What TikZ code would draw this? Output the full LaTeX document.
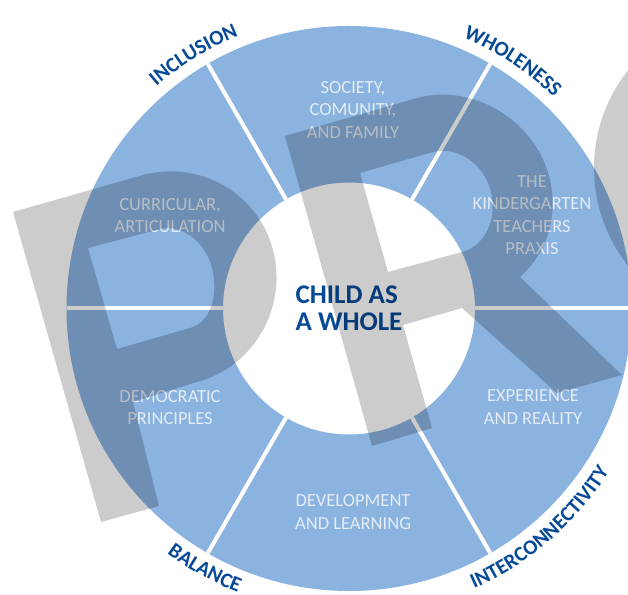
\documentclass[tikz,border=0pt]{standalone}
\usepackage{fontspec}
\setmainfont{Carlito}
\usetikzlibrary{decorations.text,calc}
\definecolor{wheelblue}{HTML}{8AB3E0}
\definecolor{labeltext}{HTML}{E3ECF7}
\definecolor{navy}{HTML}{064A97}
\tikzset{
  x=1pt,y=1pt,
  sectortext/.style={text=labeltext,font=\fontsize{18.5}{22.5}\selectfont,align=center,inner sep=0pt},
  divider/.style={draw=white,line width=4pt},
  rimtop/.style={decorate,decoration={text along path,text align=center,
     text={|\fontsize{21}{21}\selectfont\bfseries\color{navy}|#1}}},
  watermark/.style={fill=black,fill opacity=0.2,even odd rule}
}
\begin{document}
\begin{tikzpicture}
\useasboundingbox (0,0) rectangle (628,594);
\clip (0,0) rectangle (628,594);
\fill[white] (0,0) rectangle (628,594);
\coordinate (C) at (349,285.5);
% wheel
\fill[wheelblue,even odd rule] (C) circle (282.5) (C) circle (126);
\foreach \a in {0,60,120,180,240,300}
  \draw[divider] ($(C)+(\a:126)$) -- ($(C)+(\a:282.5)$);
% sector labels
\node[sectortext] (society) at (353,594-110) {SOCIETY,\\COMUNITY,\\AND FAMILY};
\node[sectortext] (praxis) at (532,594-215) {THE\\KINDERGARTEN\\TEACHERS\\PRAXIS};
\node[sectortext] (curricular) at (170,594-215.5) {CURRICULAR,\\ARTICULATION};
\node[sectortext] (democratic) at (170,594-407.5) {DEMOCRATIC\\PRINCIPLES};
\node[sectortext] (experience) at (533,594-407) {EXPERIENCE\\AND REALITY};
\node[sectortext] (development) at (353,594-512) {DEVELOPMENT\\AND LEARNING};
\node[text=navy,font=\fontsize{27}{27.5}\selectfont\bfseries,align=left,inner sep=0pt] (child) at (349,594-308) {CHILD AS\\A WHOLE};
% rim labels
\path[rimtop={INCLUSION}] ($(C)+(151.5:294)$) arc[start angle=151.5,end angle=91.5,radius=294];
\path[rimtop={WHOLENESS}] ($(C)+(86.5:294)$) arc[start angle=86.5,end angle=26.5,radius=294];
\path[rimtop={BALANCE}] ($(C)+(211:305)$) arc[start angle=211,end angle=271,radius=305];
\path[rimtop={INTERCONNECTIVITY}] ($(C)+(271:307)$) arc[start angle=271,end angle=351,radius=307];
% watermark
\path[watermark]
  (13,594-212) -- (143,594-175)
  .. controls (200,594-160) and (258,594-193) .. (273,594-250)
  .. controls (288,594-307) and (254,594-367) .. (197,594-382)
  -- (133,594-402) -- (159,594-506) -- (101,594-522) -- cycle
  (88,594-248) -- (160,594-229)
  .. controls (180,594-224) and (205,594-240) .. (212,594-268)
  .. controls (219,594-296) and (210,594-323) .. (190,594-328)
  -- (117,594-349) -- cycle;
\path[watermark]
  (285,594-136) -- (417,594-98)
  .. controls (473,594-83) and (534,594-120) .. (549,594-176)
  .. controls (560,594-218) and (545,594-255) .. (520,594-277)
  -- (622,594-375) -- (557,594-393) -- (462,594-308) -- (403,594-325)
  -- (432,594-428) -- (372,594-446) -- cycle
  (360,594-173) -- (433,594-152)
  .. controls (457,594-146) and (483,594-163) .. (490.5,594-190)
  .. controls (498,594-217) and (486,594-246) .. (462,594-252)
  -- (388,594-272) -- cycle;
\path[watermark] (751,594-168) circle (157);
\end{tikzpicture}
\end{document}
